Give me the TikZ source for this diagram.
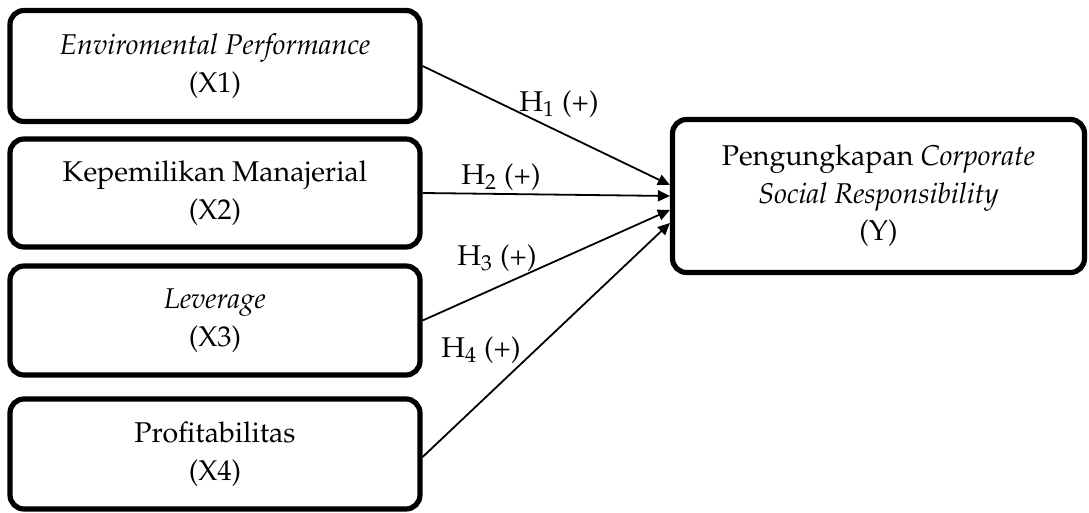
\documentclass[tikz,border=0pt]{standalone}
\usepackage[T1]{fontenc}
\usepackage{mathpazo}
\usetikzlibrary{arrows.meta}
\tikzset{
  varbox/.style={draw=black, line width=2.6pt, rounded corners=7pt, fill=white,
    align=center, inner sep=0pt, font=\fontsize{14.3}{18.8}\selectfont},
  link/.style={line width=0.9pt, -{Triangle[length=6pt,width=5.5pt]}},
  hlabel/.style={font=\fontsize{14.3}{18}\selectfont, inner sep=0pt}
}
\begin{document}
\begin{tikzpicture}[x=0.5pt, y=-0.5pt]
\useasboundingbox (0,0) rectangle (1089,513);
\node[varbox, minimum width=205pt, minimum height=55.5pt] (X1) at (215,66) {\textit{Enviromental Performance}\\(X1)};
\node[varbox, minimum width=205pt, minimum height=54pt] (X2) at (215,193) {Kepemilikan Manajerial\\(X2)};
\node[varbox, minimum width=205pt, minimum height=54.5pt] (X3) at (215,320.5) {\textit{Leverage}\\(X3)};
\node[varbox, minimum width=205pt, minimum height=55pt] (X4) at (215,454) {Profitabilitas\\(X4)};
\node[varbox, minimum width=206pt, minimum height=76.5pt] (Y) at (878.5,196) {Pengungkapan \textit{Corporate}\\\textit{Social Responsibility}\\(Y)};
\coordinate (e1) at ([yshift=5.5pt]Y.west);
\coordinate (e2) at (Y.west);
\coordinate (e3) at ([yshift=-7pt]Y.west);
\coordinate (e4) at ([yshift=-13.5pt]Y.west);
\draw[link] (X1.east) -- (e1);
\draw[link] (X2.east) -- (e2);
\draw[link] (X3.east) -- (e3);
\draw[link] ([yshift=-1.5pt]X4.east) -- (e4);
\node[hlabel] (h1) at (559,104) {H\textsubscript{1} (+)};
\node[hlabel] (h2) at (501,177) {H\textsubscript{2} (+)};
\node[hlabel] (h3) at (497,258) {H\textsubscript{3} (+)};
\node[hlabel] (h4) at (481,350) {H\textsubscript{4} (+)};
\end{tikzpicture}
\end{document}
